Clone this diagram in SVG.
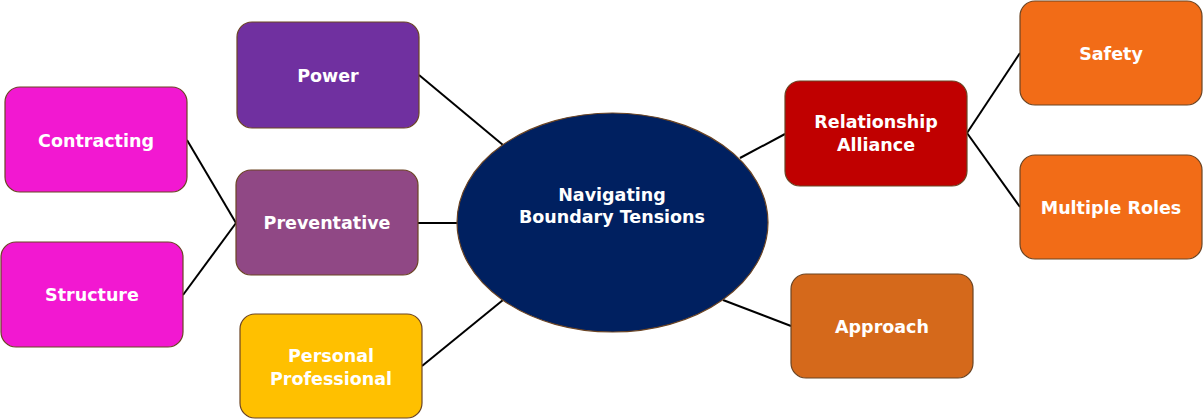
<svg xmlns="http://www.w3.org/2000/svg" width="1203" height="420" viewBox="0 0 1203 420">
<style>
.box{stroke:#6b4423;stroke-width:1.2}
.lbl{font-family:"DejaVu Sans",Verdana,sans-serif;font-weight:bold;font-size:17.5px;fill:#ffffff;text-anchor:middle}
.conn line{stroke:#000000;stroke-width:2;fill:none}
</style>
<rect width="1203" height="420" fill="#ffffff"/>
<g id="connectors" class="conn">
<line x1="419" y1="75" x2="503" y2="145"/>
<line x1="418" y1="223" x2="458" y2="223"/>
<line x1="422" y1="366" x2="503" y2="300"/>
<line x1="187" y1="140" x2="236" y2="223"/>
<line x1="183" y1="295" x2="236" y2="223"/>
<line x1="740" y1="158" x2="785" y2="134"/>
<line x1="723" y1="300" x2="791" y2="326"/>
<line x1="967" y1="133" x2="1020" y2="53"/>
<line x1="967" y1="133" x2="1020" y2="207"/>
</g>
<g id="center">
<ellipse class="box" cx="612.5" cy="222.5" rx="155.5" ry="109.5" fill="#002060"/>
<text class="lbl" x="612" y="200.5">Navigating</text>
<text class="lbl" x="612" y="222.5">Boundary Tensions</text>
</g>
<g id="power">
<rect class="box" x="237" y="22" width="182" height="106" rx="15" fill="#7030a0"/>
<text class="lbl" x="328" y="81.5">Power</text>
</g>
<g id="preventative">
<rect class="box" x="236" y="170" width="182" height="105" rx="15" fill="#904885"/>
<text class="lbl" x="327" y="229">Preventative</text>
</g>
<g id="personal-professional">
<rect class="box" x="240" y="314" width="182" height="104" rx="15" fill="#ffc000"/>
<text class="lbl" x="331" y="361.5">Personal</text>
<text class="lbl" x="331" y="384.5">Professional</text>
</g>
<g id="contracting">
<rect class="box" x="5" y="87" width="182" height="105" rx="15" fill="#f218d1"/>
<text class="lbl" x="96" y="146.5">Contracting</text>
</g>
<g id="structure">
<rect class="box" x="1" y="242" width="182" height="105" rx="15" fill="#f218d1"/>
<text class="lbl" x="92" y="300.5">Structure</text>
</g>
<g id="relationship-alliance">
<rect class="box" x="785" y="81" width="182" height="105" rx="15" fill="#c00000"/>
<text class="lbl" x="876" y="128">Relationship</text>
<text class="lbl" x="876" y="151">Alliance</text>
</g>
<g id="approach">
<rect class="box" x="791" y="274" width="182" height="104" rx="15" fill="#d5691b"/>
<text class="lbl" x="882" y="332.5">Approach</text>
</g>
<g id="safety">
<rect class="box" x="1020" y="1" width="182" height="104" rx="15" fill="#f26c17"/>
<text class="lbl" x="1111" y="59.5">Safety</text>
</g>
<g id="multiple-roles">
<rect class="box" x="1020" y="155" width="182" height="104" rx="15" fill="#f26c17"/>
<text class="lbl" x="1111" y="213.5">Multiple Roles</text>
</g>
</svg>
